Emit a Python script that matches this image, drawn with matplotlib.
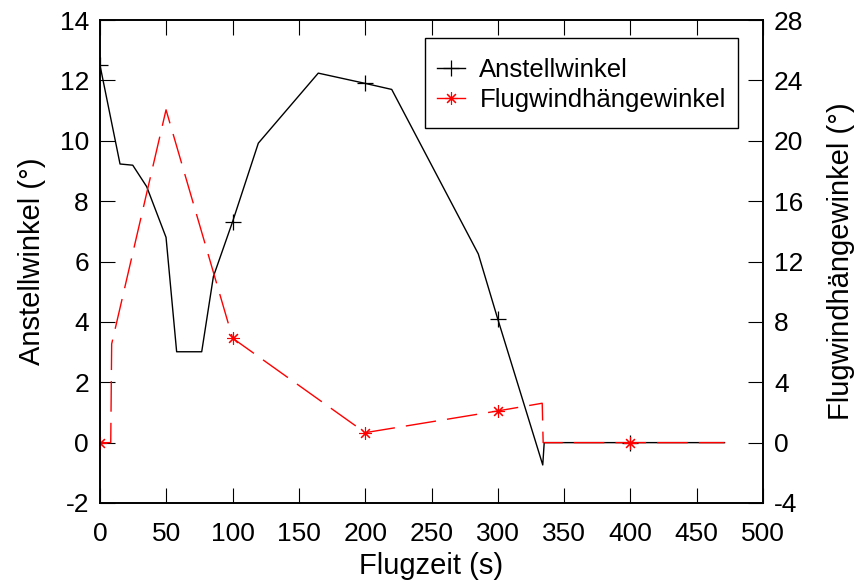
import matplotlib
matplotlib.use("Agg")
import matplotlib.pyplot as plt
from matplotlib.lines import Line2D
from matplotlib.patches import Rectangle

plt.rcParams['font.family'] = ['Liberation Sans', 'DejaVu Sans']
plt.rcParams['axes.unicode_minus'] = False

# Anstellwinkel (left axis)
t_aoa = [0, 15.1, 24.7, 35.2, 49.8, 57.8, 76.7, 85.5, 100, 119.4, 164.6,
         200, 220, 285.3, 300, 333.9, 335, 400, 471]
aoa = [12.5, 9.23, 9.19, 8.48, 6.80, 3.01, 3.01, 5.50, 7.32, 9.92, 12.24,
       11.9, 11.7, 6.25, 4.09, -0.74, 0.0, 0.0, 0.0]
t_aoa_marks = [0, 100, 200, 300, 400]
aoa_marks = [12.5, 7.32, 11.9, 4.09, 0.0]

# Flugwindhängewinkel (right axis)
t_bank = [0, 8.1, 8.8, 49.8, 100, 200, 300, 333.5, 334.2, 400, 471]
bank = [0.0, 0.0, 6.54, 22.05, 6.92, 0.66, 2.10, 2.61, 0.0, 0.0, 0.0]
t_bank_marks = [0, 100, 200, 300, 400]
bank_marks = [0.0, 6.92, 0.66, 2.10, 0.0]

x_ticks = list(range(0, 501, 50))
y_left_ticks = list(range(-2, 15, 2))
y_right_ticks = list(range(-4, 29, 4))

fig = plt.figure(figsize=(8.56, 5.81), dpi=100)
ax = fig.add_axes([100 / 856, 1 - 503 / 581, 663 / 856, 483 / 581])
ax2 = ax.twinx()

star = (8, 2, 0)

ax.plot(t_aoa, aoa, color='black', lw=1.0)
ax.plot(t_aoa_marks, aoa_marks, ls='none', marker='+', color='black',
        markersize=11, markeredgewidth=0.9)

ax2.plot(t_bank, bank, color='red', lw=1.0, dashes=(22, 8))
ax2.plot(t_bank_marks, bank_marks, ls='none', marker=star, color='red',
         markersize=9, markeredgewidth=0.8)

ax.set_xlim(0, 500)
ax.set_ylim(-2, 14)
ax2.set_ylim(-4, 28)
ax.set_xticks(x_ticks)
ax.set_yticks(y_left_ticks)
ax2.set_yticks(y_right_ticks)

fs = 19
ax.tick_params(axis='x', direction='in', length=11, width=0.8, top=True,
               labelsize=fs, pad=14)
ax.tick_params(axis='y', direction='in', length=11, width=0.8, right=False,
               labelsize=fs, pad=8)
ax2.tick_params(axis='y', direction='in', length=11, width=0.8,
                labelsize=fs, pad=8)
for a in (ax, ax2):
    for s in a.spines.values():
        s.set_linewidth(1.2)

ax.set_xlabel('Flugzeit (s)', fontsize=21, labelpad=4)
ax.set_ylabel('Anstellwinkel (°)', fontsize=21, labelpad=10)
ax2.set_ylabel('Flugwindhängewinkel (°)', fontsize=21, labelpad=17)

# legend box drawn separately so its padding can be set freely
box = Rectangle((0.4902, 0.7764), 0.4721, 0.1863, transform=ax2.transAxes,
                facecolor='white', edgecolor='black', lw=1.0, zorder=4)
ax2.add_patch(box)

handles = [
    Line2D([], [], color='black', lw=1.0, marker='+', markersize=11,
           markeredgewidth=0.9),
    Line2D([], [], color='red', lw=1.0, marker=star, markersize=9,
           markeredgewidth=0.8),
]
leg = ax2.legend(handles, ['Anstellwinkel', 'Flugwindhängewinkel'],
                 loc='upper left', bbox_to_anchor=(0.5083, 0.921),
                 fontsize=18.5, frameon=False, handlelength=1.1,
                 handletextpad=0.55, borderpad=0, labelspacing=0.22,
                 borderaxespad=0)
leg.set_zorder(5)

fig.savefig('out.png', dpi=100)
